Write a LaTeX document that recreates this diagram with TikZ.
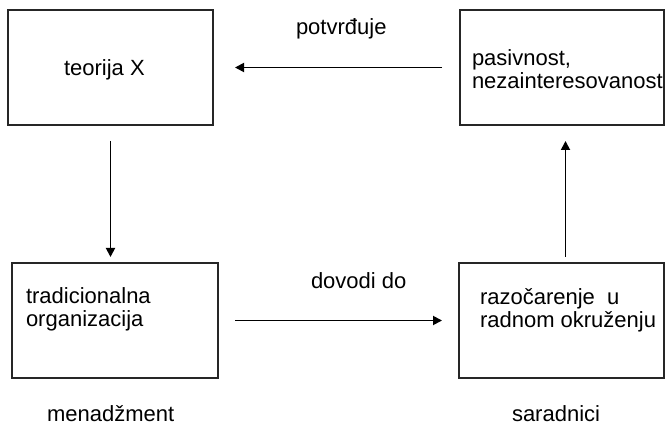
\documentclass[tikz,border=0pt]{standalone}
\usepackage{fontspec}
\setmainfont{Liberation Sans}
\usetikzlibrary{arrows.meta}
\begin{document}
\begin{tikzpicture}[x=1pt,y=-1pt,
  box/.style={draw=black!85, line width=1.1pt, anchor=north west,
    minimum height=115pt, inner sep=0pt, outer sep=0pt},
  txt/.style={anchor=base west, inner sep=0pt, outer sep=0pt,
    font=\fontsize{22}{23}\selectfont},
  flow/.style={line width=1.8pt, -{Triangle[length=9pt,width=9pt]}}]
\useasboundingbox (0,0) rectangle (666,427);

% the four boxes
\node[box, minimum width=205pt] (theory)  at (8,10)   {};
\node[box, minimum width=204pt] (passive) at (460,10) {};
\node[box, minimum width=206pt] (trad)    at (12,263) {};
\node[box, minimum width=205pt] (disapp)  at (459,263) {};

% box texts
\node[txt] (ttheory) at (64,76) {teorija X};
\node[txt] (tpassive) at (472,66)
  {\begin{tabular}[t]{@{}l@{}}pasivnost,\\nezainteresovanost\end{tabular}};
\node[txt] (ttrad) at (26,304)
  {\begin{tabular}[t]{@{}l@{}}tradicionalna\\organizacija\end{tabular}};
\node[txt] (tdisapp) at (480,305)
  {\begin{tabular}[t]{@{}l@{}}razočarenje~ u\\radnom okruženju\end{tabular}};

% arrow labels and column captions
\node[txt] (lconfirm) at (296,35) {potvrđuje};
\node[txt] (lleads)   at (311,289) {dovodi do};
\node[txt] (cmgmt)    at (47,421) {menadžment};
\node[txt] (cstaff)   at (512,421) {saradnici};

% connectors
\draw[flow, shorten <=18pt, shorten >=22pt] (passive.west) -- (theory.east);
\draw[flow, shorten <=17pt, shorten >=17pt] (trad.east) -- (disapp.west);
\draw[flow, shorten <=16pt, shorten >=6pt] (theory.south) -- (theory.south |- trad.north);
\draw[flow, shorten <=6pt, shorten >=16pt]
  ([xshift=4pt]disapp.north) -- ([xshift=4pt]disapp.north |- passive.south);
\end{tikzpicture}
\end{document}
